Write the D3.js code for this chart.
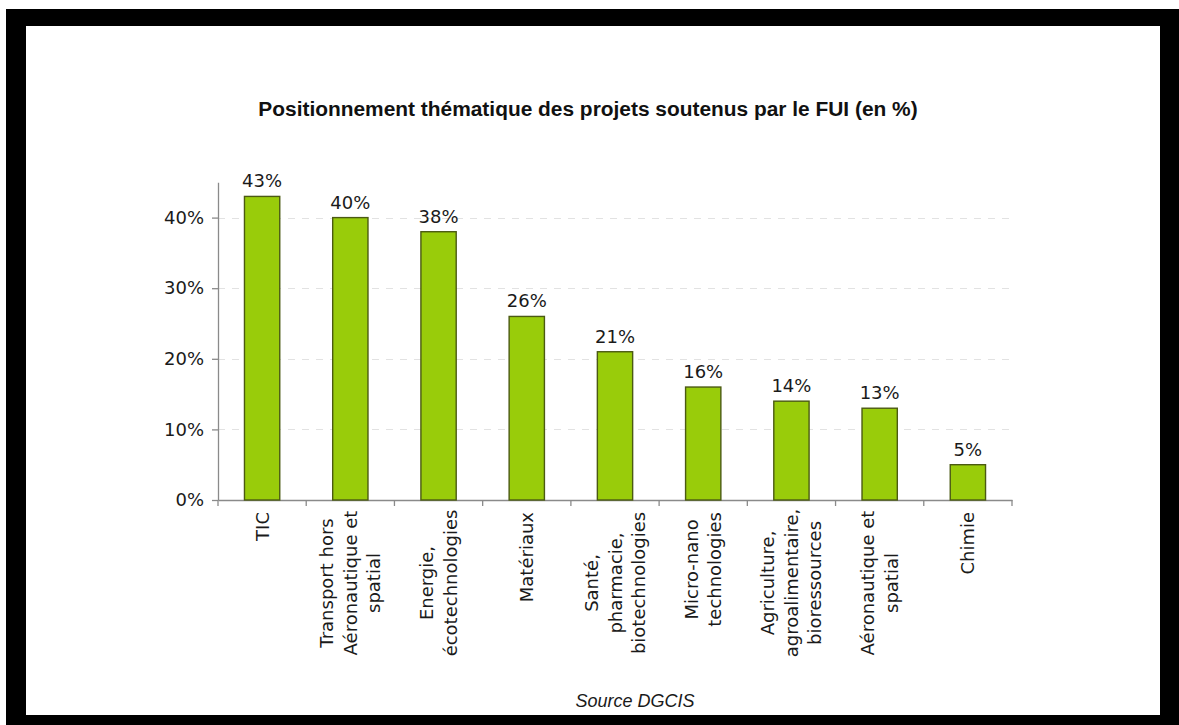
<!DOCTYPE html>
<html>
<head>
<meta charset="utf-8">
<script src="https://cdn.jsdelivr.net/npm/d3@7"></script>
<style>
  html, body { margin: 0; padding: 0; background: #ffffff; }
  svg { display: block; }
</style>
</head>
<body>
<svg id="chart" width="1179" height="725"></svg>
<script>
// Thematic positioning of FUI-funded projects (share of projects, %)
const categories = [
  "TIC",
  "Transport hors Aéronautique et spatial",
  "Energie, écotechnologies",
  "Matériaux",
  "Santé, pharmacie, biotechnologies",
  "Micro-nano technologies",
  "Agriculture, agroalimentaire, bioressources",
  "Aéronautique et spatial",
  "Chimie"
];
const labelLines = [
  ["TIC"],
  ["Transport hors", "Aéronautique et", "spatial"],
  ["Energie,", "écotechnologies"],
  ["Matériaux"],
  ["Santé,", "pharmacie,", "biotechnologies"],
  ["Micro-nano", "technologies"],
  ["Agriculture,", "agroalimentaire,", "bioressources"],
  ["Aéronautique et", "spatial"],
  ["Chimie"]
];
const values = [43, 40, 38, 26, 21, 16, 14, 13, 5];
const yTicks = [0, 10, 20, 30, 40];
const yMax = 45;
const titleText = "Positionnement thématique des projets soutenus par le FUI (en %)";
const sourceText = "Source DGCIS";

const svg = d3.select("#chart");
const W = 1179, H = 725;

// Frame
svg.append("rect").attr("x", 6).attr("y", 9).attr("width", W - 6).attr("height", H - 9).attr("fill", "#000");
svg.append("rect").attr("x", 26).attr("y", 26).attr("width", 1134).attr("height", 689).attr("fill", "#fff");

const plot = { left: 218, right: 1012, top: 182.3, bottom: 500 };

const x = d3.scaleBand().domain(categories).range([plot.left, plot.right]).padding(0);
const y = d3.scaleLinear().domain([0, yMax]).range([plot.bottom, plot.top]);

const numFont = "'DejaVu Sans', Verdana, sans-serif";
const axisColor = "#8a8a8a";
const textColor = "#1a1a1a";

// Title
svg.append("text")
  .attr("x", 588).attr("y", 116)
  .attr("text-anchor", "middle")
  .attr("font-family", "'Liberation Sans', Arial, sans-serif")
  .attr("font-weight", "bold")
  .attr("font-size", 20.9)
  .attr("fill", "#111")
  .text(titleText);

// Dashed gridlines
svg.append("g")
  .selectAll("line")
  .data(yTicks.filter(d => d > 0))
  .join("line")
  .attr("x1", plot.left).attr("x2", plot.right)
  .attr("y1", d => Math.round(y(d)) + 0.5).attr("y2", d => Math.round(y(d)) + 0.5)
  .attr("stroke", "#e2e2e2")
  .attr("stroke-width", 1)
  .attr("stroke-dasharray", "7,7");

// Y axis
const yAxis = svg.append("g")
  .attr("transform", `translate(${plot.left},0)`)
  .call(d3.axisLeft(y).tickValues(yTicks).tickSize(6).tickSizeOuter(0).tickPadding(8)
    .tickFormat(d => d + "%"));
yAxis.select(".domain").attr("stroke", axisColor).attr("stroke-width", 1.3);
yAxis.selectAll(".tick line").attr("stroke", axisColor).attr("stroke-width", 1.3);
yAxis.selectAll(".tick text")
  .attr("font-family", numFont).attr("font-size", 18).attr("fill", textColor);

// X axis
const xAxis = svg.append("g")
  .attr("transform", `translate(0,${plot.bottom})`)
  .call(d3.axisBottom(x).tickSize(0).tickSizeOuter(0).tickFormat(""));
xAxis.select(".domain").attr("stroke", axisColor).attr("stroke-width", 1.3);
xAxis.selectAll(".tick").remove();

// Tick marks on band boundaries
const bounds = categories.map(c => x(c)).concat([x(categories[categories.length - 1]) + x.bandwidth()]);
svg.append("g")
  .selectAll("line")
  .data(bounds)
  .join("line")
  .attr("x1", d => d).attr("x2", d => d)
  .attr("y1", plot.bottom).attr("y2", plot.bottom + 6)
  .attr("stroke", axisColor).attr("stroke-width", 1.3);

// Bars
const barW = x.bandwidth() * 0.4;
svg.append("g")
  .selectAll("rect")
  .data(categories)
  .join("rect")
  .attr("x", c => x(c) + (x.bandwidth() - barW) / 2)
  .attr("y", (c, i) => y(values[i]))
  .attr("width", barW)
  .attr("height", (c, i) => y(0) - y(values[i]))
  .attr("fill", "#99cc0a")
  .attr("stroke", "#4b5a12")
  .attr("stroke-width", 1.4);

// Value labels
svg.append("g")
  .selectAll("text")
  .data(categories)
  .join("text")
  .attr("x", c => x(c) + x.bandwidth() / 2)
  .attr("y", (c, i) => y(values[i]) - 9)
  .attr("text-anchor", "middle")
  .attr("font-family", numFont)
  .attr("font-size", 18)
  .attr("fill", textColor)
  .text((c, i) => values[i] + "%");

// Rotated category labels, lines centered on each other, block hung below the axis
const lineGap = 23.5;
const labelTop = 12;
const maxBlock = 142;
categories.forEach((c, i) => {
  const g = svg.append("g")
    .attr("transform", `translate(${x(c) + x.bandwidth() / 2},${plot.bottom}) rotate(-90)`);
  const lines = labelLines[i];
  const texts = lines.map((ln, k) =>
    g.append("text")
      .attr("text-anchor", "middle")
      .attr("dominant-baseline", "central")
      .attr("y", (k - (lines.length - 1) / 2) * lineGap)
      .attr("font-family", numFont)
      .attr("font-size", 18)
      .attr("fill", textColor)
      .text(ln));
  const maxW = Math.min(maxBlock, d3.max(texts, t => t.node().getComputedTextLength()));
  texts.forEach(t => t.attr("x", -(labelTop + maxW / 2)));
});

// Source
svg.append("text")
  .attr("x", 635).attr("y", 707)
  .attr("text-anchor", "middle")
  .attr("font-family", "'Liberation Sans', Arial, sans-serif")
  .attr("font-style", "italic")
  .attr("font-size", 18)
  .attr("fill", textColor)
  .text(sourceText);
</script>
</body>
</html>
